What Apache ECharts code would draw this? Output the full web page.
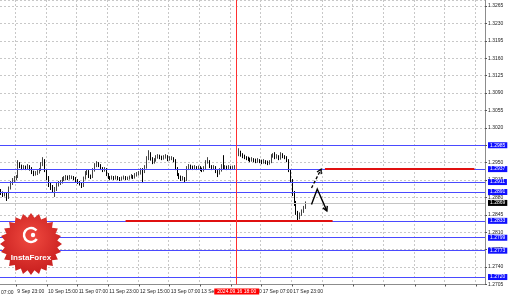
<!DOCTYPE html>
<html><head><meta charset="utf-8">
<script src="https://cdn.jsdelivr.net/npm/echarts@6/dist/echarts.min.js"></script>
<style>html,body{margin:0;padding:0;background:#fff}#c{width:510px;height:297px}</style>
</head><body><div id="c"></div><script>
// ---- data (hourly candles, index 0 = 9 Sep 15:00) ----
const opens = [1.2893,1.2889,1.2885,1.2887,1.2879,1.2899,1.2909,1.2915,1.2919,1.2921,
1.2947,1.2943,1.2939,1.2941,1.2939,1.2943,1.2939,1.2931,1.2927,1.2929,
1.2931,1.2935,1.2947,1.2955,1.2935,1.2921,1.2907,1.2901,1.2895,1.2897,
1.2905,1.2909,1.2911,1.2917,1.2919,1.2921,1.2919,1.2921,1.2921,1.2919,
1.2915,1.2911,1.2909,1.2903,1.2919,1.2929,1.2933,1.2923,1.2921,1.2935,
1.2945,1.2949,1.2945,1.2939,1.2935,1.2937,1.2927,1.2921,1.2919,1.2921,
1.2919,1.2921,1.2919,1.2917,1.2919,1.2921,1.2919,1.2919,1.2921,1.2923,
1.2921,1.2925,1.2927,1.2929,1.2935,1.2933,1.2941,1.2959,1.2969,1.2959,
1.2951,1.2955,1.2961,1.2963,1.2961,1.2959,1.2961,1.2963,1.2957,1.2959,
1.2959,1.2955,1.2939,1.2927,1.2921,1.2917,1.2919,1.2915,1.2939,1.2943,
1.2941,1.2939,1.2941,1.2939,1.2941,1.2937,1.2935,1.2939,1.2951,1.2953,
1.2943,1.2939,1.2941,1.2933,1.2929,1.2935,1.2943,1.2941,1.2941,1.2939,
1.2941,1.2939,1.2941,1.2941,1.2969,1.2971,1.2967,1.2963,1.2961,1.2959,
1.2957,1.2955,1.2957,1.2955,1.2953,1.2955,1.2953,1.2951,1.2953,1.2951,
1.2949,1.2951,1.2963,1.2965,1.2961,1.2963,1.2959,1.2967,1.2963,1.2961,
1.2955,1.2935,1.2915,1.2889,1.2869,1.2850,1.2840,1.2846,1.2852,1.2860];
const closes = [1.2889,1.2885,1.2887,1.2879,1.2899,1.2909,1.2915,1.2919,1.2921,1.2947,
1.2943,1.2939,1.2941,1.2939,1.2943,1.2939,1.2931,1.2927,1.2929,1.2931,
1.2935,1.2947,1.2955,1.2935,1.2921,1.2907,1.2901,1.2895,1.2897,1.2905,
1.2909,1.2911,1.2917,1.2919,1.2921,1.2919,1.2921,1.2921,1.2919,1.2915,
1.2911,1.2909,1.2903,1.2919,1.2929,1.2933,1.2923,1.2921,1.2935,1.2945,
1.2949,1.2945,1.2939,1.2935,1.2937,1.2927,1.2921,1.2919,1.2921,1.2919,
1.2921,1.2919,1.2917,1.2919,1.2921,1.2919,1.2919,1.2921,1.2923,1.2921,
1.2925,1.2927,1.2929,1.2935,1.2933,1.2941,1.2959,1.2969,1.2959,1.2951,
1.2955,1.2961,1.2963,1.2961,1.2959,1.2961,1.2963,1.2957,1.2959,1.2959,
1.2955,1.2939,1.2927,1.2921,1.2917,1.2919,1.2915,1.2939,1.2943,1.2941,
1.2939,1.2941,1.2939,1.2941,1.2937,1.2935,1.2939,1.2951,1.2953,1.2943,
1.2939,1.2941,1.2933,1.2929,1.2935,1.2943,1.2941,1.2941,1.2939,1.2941,
1.2939,1.2941,1.2941,1.2969,1.2971,1.2967,1.2963,1.2961,1.2959,1.2957,
1.2955,1.2957,1.2955,1.2953,1.2955,1.2953,1.2951,1.2953,1.2951,1.2949,
1.2951,1.2963,1.2965,1.2961,1.2963,1.2959,1.2967,1.2963,1.2961,1.2955,
1.2935,1.2915,1.2889,1.2869,1.2850,1.2840,1.2846,1.2852,1.2860,1.2869];
const highs = [1.2897,1.2892,1.2891,1.2889,1.2902,1.2913,1.2919,1.2923,1.2925,1.2955,
1.2951,1.2946,1.2945,1.2944,1.2947,1.2945,1.2941,1.2934,1.2933,1.2935,
1.2939,1.2951,1.2961,1.2957,1.2937,1.2923,1.2911,1.2905,1.2901,1.2909,
1.2913,1.2915,1.2921,1.2923,1.2925,1.2924,1.2925,1.2924,1.2923,1.2921,
1.2917,1.2913,1.2911,1.2922,1.2933,1.2937,1.2935,1.2926,1.2939,1.2949,
1.2953,1.2951,1.2947,1.2941,1.2941,1.2939,1.2929,1.2923,1.2924,1.2923,
1.2924,1.2923,1.2921,1.2922,1.2924,1.2923,1.2922,1.2924,1.2927,1.2925,
1.2929,1.2931,1.2933,1.2939,1.2939,1.2945,1.2963,1.2975,1.2971,1.2961,
1.2959,1.2965,1.2967,1.2966,1.2964,1.2965,1.2967,1.2965,1.2963,1.2963,
1.2961,1.2957,1.2941,1.2929,1.2924,1.2923,1.2921,1.2943,1.2947,1.2946,
1.2944,1.2945,1.2943,1.2944,1.2943,1.2940,1.2943,1.2955,1.2961,1.2955,
1.2945,1.2945,1.2943,1.2935,1.2939,1.2947,1.2965,1.2945,1.2944,1.2945,
1.2943,1.2944,1.2945,1.2991,1.2979,1.2974,1.2969,1.2966,1.2963,1.2962,
1.2960,1.2961,1.2959,1.2958,1.2959,1.2957,1.2956,1.2957,1.2955,1.2954,
1.2955,1.2967,1.2969,1.2971,1.2967,1.2965,1.2971,1.2969,1.2965,1.2963,
1.2957,1.2937,1.2917,1.2893,1.2873,1.2853,1.2850,1.2856,1.2863,1.2872];
const lows = [1.2885,1.2881,1.2882,1.2873,1.2877,1.2896,1.2905,1.2911,1.2915,1.2919,
1.2939,1.2935,1.2936,1.2935,1.2936,1.2934,1.2927,1.2923,1.2924,1.2925,
1.2928,1.2933,1.2943,1.2931,1.2915,1.2901,1.2895,1.2889,1.2881,1.2893,
1.2902,1.2905,1.2908,1.2913,1.2915,1.2915,1.2916,1.2917,1.2915,1.2911,
1.2907,1.2904,1.2899,1.2901,1.2916,1.2925,1.2919,1.2917,1.2919,1.2932,
1.2941,1.2941,1.2935,1.2931,1.2932,1.2923,1.2917,1.2915,1.2916,1.2915,
1.2916,1.2915,1.2913,1.2914,1.2916,1.2915,1.2915,1.2916,1.2918,1.2917,
1.2918,1.2922,1.2924,1.2926,1.2909,1.2929,1.2938,1.2955,1.2954,1.2947,
1.2948,1.2952,1.2958,1.2957,1.2955,1.2956,1.2958,1.2953,1.2954,1.2955,
1.2951,1.2935,1.2923,1.2917,1.2913,1.2914,1.2911,1.2913,1.2935,1.2937,
1.2935,1.2936,1.2935,1.2936,1.2933,1.2931,1.2932,1.2937,1.2948,1.2939,
1.2935,1.2936,1.2929,1.2921,1.2926,1.2932,1.2937,1.2937,1.2935,1.2936,
1.2935,1.2936,1.2937,1.2939,1.2963,1.2962,1.2959,1.2957,1.2955,1.2953,
1.2951,1.2952,1.2951,1.2949,1.2950,1.2949,1.2947,1.2948,1.2947,1.2945,
1.2946,1.2949,1.2960,1.2957,1.2958,1.2955,1.2956,1.2959,1.2957,1.2951,
1.2931,1.2909,1.2883,1.2863,1.2845,1.2834,1.2836,1.2843,1.2849,1.2857];

const tickIndex  = [8,24,40,56,72,88,104,120,136,152];
const tickLabels = ["9 Sep 23:00","10 Sep 15:00","11 Sep 07:00","11 Sep 23:00","12 Sep 15:00",
                    "13 Sep 07:00","13 Sep 23:00","16 Sep 15:00","17 Sep 07:00","17 Sep 23:00"];
const totalSlots = 253;            // candles + empty future space
const levelValues = [1.2985, 1.2937, 1.2911, 1.2891, 1.2833, 1.2799, 1.2773, 1.2720];
const currentPrice = 1.2869;
const redSegments = [[65, 173, 1.2833], [169, 247, 1.2937]];
const markerIndex = 123, markerLabel = "2024.09.16 18:00";
const arrowUp = [[162, 1.2899], [167, 1.2937]];
const zigzag  = [[162, 1.2866], [165, 1.2897], [170, 1.2853]];

// ---- build ----
const categories = [];
for (let i = 0; i < totalSlots; i++) categories.push(String(i));
const labelMap = {};
tickIndex.forEach((k, j) => labelMap[k] = tickLabels[j]);
const candles = closes.map((c, i) => [opens[i], c, lows[i], highs[i]]);
const gridFn = (idx) => (idx - 8) % 16 === 0;

const FONT = 'Liberation Sans, Arial, sans-serif';
const mlData = [];
levelValues.forEach(v => mlData.push({
  yAxis: v, lineStyle: {color: '#4a4aff', width: 1, type: 'solid'},
  label: {show: true, position: 'end', distance: 3, formatter: v.toFixed(4), color: '#fff',
          backgroundColor: '#1010ff', fontSize: 5, fontFamily: FONT, padding: [1, 2, 0, 2]}
}));
mlData.push({
  yAxis: currentPrice, lineStyle: {color: '#c4c4c4', width: 1, type: 'solid'},
  label: {show: true, position: 'end', distance: 3, formatter: currentPrice.toFixed(4), color: '#fff',
          backgroundColor: '#000', fontSize: 5, fontFamily: FONT, padding: [1, 2, 0, 2]}
});
redSegments.forEach(s => mlData.push([
  {coord: [s[0], s[2]], lineStyle: {color: '#e01010', width: 2, type: 'solid'}, label: {show: false}},
  {coord: [s[1], s[2]]}
]));
mlData.push({
  xAxis: markerIndex, lineStyle: {color: '#ff3030', width: 1, type: 'solid'},
  label: {show: true, position: 'start', distance: 4, formatter: markerLabel, color: '#fff',
          backgroundColor: '#ff0000', fontSize: 5, fontFamily: FONT, padding: [1, 3, 0, 3]}
});

const chart = echarts.init(document.getElementById('c'), null, {renderer: 'canvas'});
chart.setOption({
  animation: false,
  backgroundColor: '#fff',
  textStyle: {fontFamily: FONT},
  grid: {left: 0, right: 25, top: 0, bottom: 12.5, containLabel: false},
  xAxis: {
    type: 'category', data: categories, boundaryGap: true,
    axisLine: {show: true, lineStyle: {color: '#8c8c8c', width: 1}},
    axisTick: {show: true, interval: gridFn, alignWithLabel: true, length: 2, lineStyle: {color: '#555'}},
    axisLabel: {show: true, interval: gridFn, formatter: (v, idx) => labelMap[idx] || '',
                align: 'left', fontSize: 5, color: '#222', margin: 5, padding: [0, 0, 0, 1]},
    splitLine: {show: true, interval: gridFn, lineStyle: {color: '#c8c8c8', type: [2, 2], width: 1}}
  },
  yAxis: {
    type: 'value', position: 'right', min: 1.2705, max: 1.3277, interval: 0.0035, scale: true,
    axisLine: {show: true, lineStyle: {color: '#8c8c8c', width: 1}},
    axisTick: {show: true, length: 2, inside: false, lineStyle: {color: '#555'}},
    axisLabel: {show: true, formatter: v => v.toFixed(4), fontSize: 5, color: '#222', margin: 3,
                showMaxLabel: false, showMinLabel: true},
    splitLine: {show: true, lineStyle: {color: '#c8c8c8', type: [2, 2], width: 1}}
  },
  series: [{
    type: 'candlestick', data: candles, barWidth: 1,
    itemStyle: {color: '#444', color0: '#000', borderColor: '#444', borderColor0: '#000', borderWidth: 1},
    markLine: {symbol: 'none', silent: true, animation: false, precision: 4, data: mlData}
  }]
});

// ---- annotations & logo ----
const px = (d) => chart.convertToPixel({gridIndex: 0}, d);
function head(tip, from, size) {
  const a = Math.atan2(tip[1] - from[1], tip[0] - from[0]);
  const b1 = [tip[0] - size * Math.cos(a - 0.5), tip[1] - size * Math.sin(a - 0.5)];
  const b2 = [tip[0] - size * Math.cos(a + 0.5), tip[1] - size * Math.sin(a + 0.5)];
  return [b1, tip, b2];
}
const upPts = arrowUp.map(px);
const zzPts = zigzag.map(px);
const g = [];
g.push({type: 'polyline', shape: {points: upPts}, style: {stroke: '#000', lineWidth: 1.3, lineDash: [3, 2], fill: null}, z: 50});
g.push({type: 'polyline', shape: {points: head(upPts[1], upPts[0], 5)}, style: {stroke: '#000', lineWidth: 1.3, fill: null}, z: 50});
g.push({type: 'polyline', shape: {points: zzPts}, style: {stroke: '#000', lineWidth: 1.4, fill: null}, z: 50});
g.push({type: 'polyline', shape: {points: head(zzPts[2], zzPts[1], 5)}, style: {stroke: '#000', lineWidth: 1.4, fill: null}, z: 50});

// InstaForex badge
const cx = 31, cy = 244, ro = 31, ri = 26.5, n = 24;
const star = [];
for (let k = 0; k < n * 2; k++) {
  const r = k % 2 === 0 ? ro : ri;
  const ang = Math.PI * k / n;
  star.push([cx + r * Math.cos(ang), cy + r * Math.sin(ang)]);
}
g.push({type: 'polygon', shape: {points: star}, z: 40,
  style: {fill: new echarts.graphic.RadialGradient(0.5, 0.4, 0.6, [{offset: 0, color: '#f04a40'}, {offset: 1, color: '#c81e1e'}]), stroke: null}});
g.push({type: 'arc', shape: {cx: cx, cy: cy - 9, r: 7, startAngle: 0.6, endAngle: 5.6}, z: 41,
  style: {stroke: '#fff', lineWidth: 2.5, fill: null}});
g.push({type: 'circle', shape: {cx: cx + 2, cy: cy - 9, r: 2.2}, z: 41, style: {fill: '#fff'}});
g.push({type: 'text', x: cx, y: cy + 14, z: 42,
  style: {text: 'InstaForex', fill: '#fff', font: 'bold 8px ' + FONT, align: 'center', verticalAlign: 'middle'}});
// partially visible first time label at the left edge
g.push({type: 'text', x: 1, y: 292.5, z: 30,
  style: {text: '07:00', fill: '#222', font: '5px ' + FONT, align: 'left', verticalAlign: 'middle'}});
chart.setOption({graphic: g});
</script></body></html>
